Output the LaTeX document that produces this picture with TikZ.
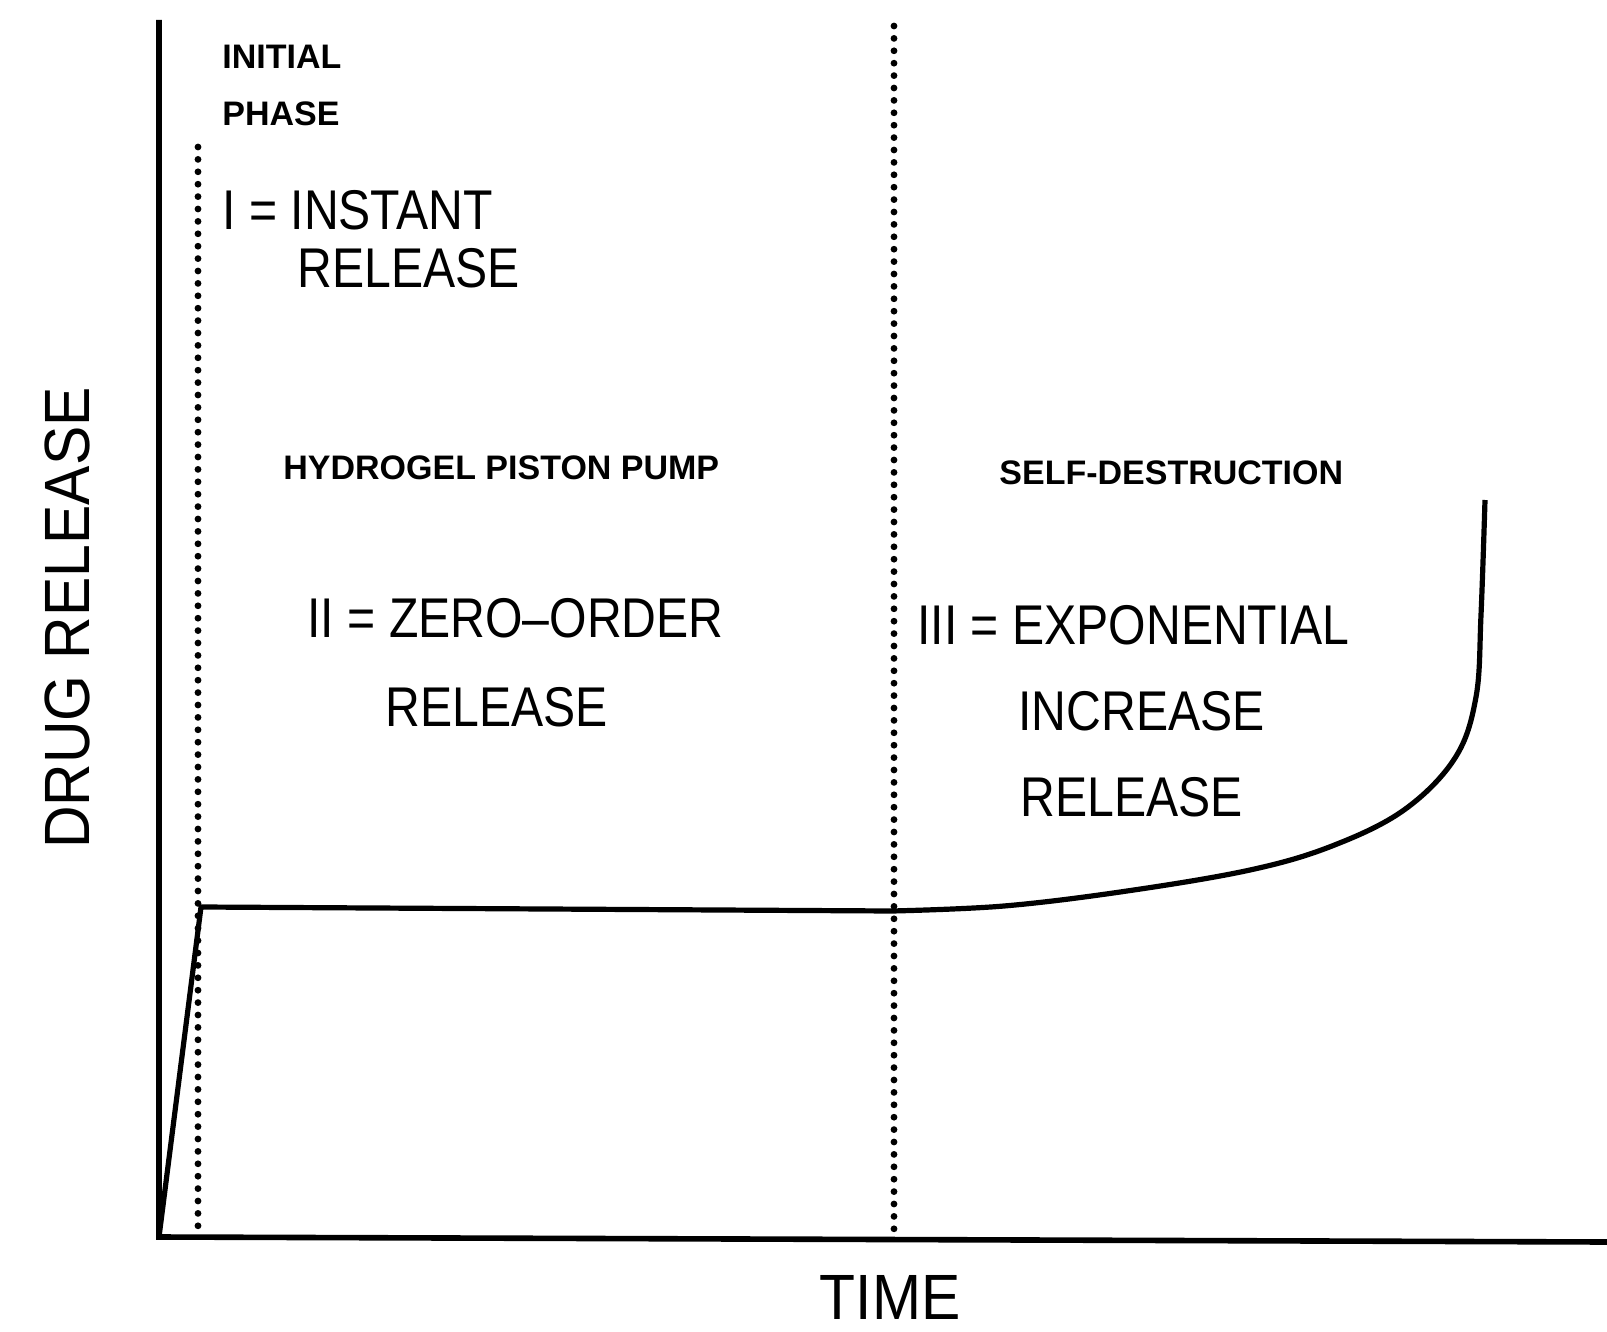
\documentclass[tikz,border=0pt]{standalone}
\usepackage{fontspec}
\setmainfont{Liberation Sans}
\newfontfamily\labelfont[FakeStretch=0.86]{Liberation Sans}
\newfontfamily\axisfont[FakeStretch=0.92]{Liberation Sans}
\begin{document}
\begin{tikzpicture}[x=0.5pt,y=-0.5pt,
  axisline/.style={line width=2.8pt, line join=miter},
  guide/.style={line width=3.4pt, line cap=round, dash pattern=on 0pt off 6.2pt},
  curveline/.style={line width=2.6pt, line join=round},
  phase/.style={font=\bfseries\fontsize{17}{17}\selectfont, inner sep=0pt, anchor=west},
  desc/.style={font=\labelfont\fontsize{28}{28}\selectfont, inner sep=0pt, anchor=west},
  axislabel/.style={font=\axisfont\fontsize{32}{32}\selectfont, inner sep=0pt}]

% canvas
\fill[white] (0,0) rectangle (1607,1332);
\useasboundingbox (0,0) rectangle (1607,1332);

% axes
\coordinate (ytop) at (159,20);
\coordinate (org) at (159,1237);
\coordinate (xend) at (1607,1242);
\draw[axisline] (ytop) -- (org) -- (xend);

% phase boundaries
\coordinate (b1top) at (198,147);
\coordinate (b1bot) at (198,1232);
\coordinate (b2top) at (894,26);
\coordinate (b2bot) at (894,1232);
\draw[guide] (b1top) -- (b1bot);
\draw[guide] (b2top) -- (b2bot);

% release profile
\coordinate (burst) at (201,907);
\coordinate (plateau) at (892,911);
\draw[curveline] (org) -- (burst) -- (plateau);
\draw[curveline] plot[smooth, tension=0.6] coordinates {
  (892,911) (1004,906) (1127,891) (1250,870) (1332,846)
  (1404,810) (1455,758) (1476,697) (1481,615) (1485,500)};

% phase I
\node[phase] (initial) at (222,57) {INITIAL};
\node[phase] (phasehd) at (222,114) {PHASE};
\node[desc] (instant) at (222,210) {I = INSTANT};
\node[desc] (rel1) at (297,268) {RELEASE};

% phase II
\node[phase] (pump) at (283,468) {HYDROGEL PISTON PUMP};
\node[desc] (zero) at (307,618) {II = ZERO–ORDER};
\node[desc] (rel2) at (385,707) {RELEASE};

% phase III
\node[phase] (selfd) at (999,473) {SELF-DESTRUCTION};
\node[desc] (expo) at (917,625) {III = EXPONENTIAL};
\node[desc] (incr) at (1018,711) {INCREASE};
\node[desc] (rel3) at (1020,797) {RELEASE};

% axis titles
\node[axislabel, rotate=90] (ylabel) at (67,618) {DRUG RELEASE};
\node[axislabel] (xlabel) at (890,1297) {TIME};
\end{tikzpicture}
\end{document}
